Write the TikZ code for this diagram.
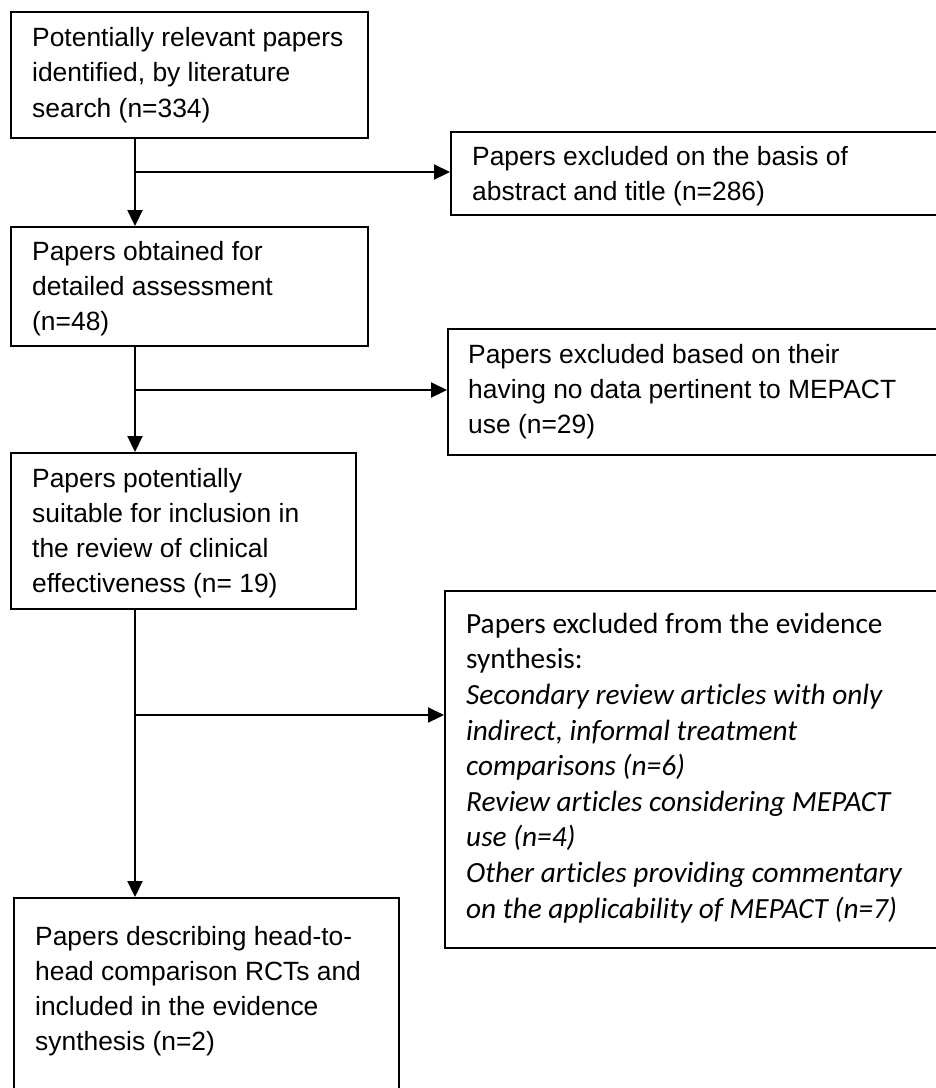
\documentclass[tikz,border=0pt]{standalone}
\usepackage{fontspec}
\setmainfont{Liberation Sans}
\newfontfamily\calfont[Ligatures=NoCommon]{Carlito}
\usetikzlibrary{arrows.meta}
\begin{document}
\begin{tikzpicture}[x=1pt,y=-1pt,
  box/.style={draw=black, line width=1.6pt, inner sep=0pt, anchor=north west},
  txt/.style={anchor=north west, inner sep=0pt, align=left, font=\fontsize{26.4}{35.2}\selectfont},
  caltxt/.style={anchor=north west, inner sep=0pt, align=left, font=\calfont\fontsize{29.3}{35.6}\selectfont},
  conn/.style={line width=2.2pt, draw=black},
  arr/.style={conn, -{Triangle[length=16pt,width=15pt]}}]
\useasboundingbox (0,0) rectangle (936,1088);
\clip (0,0) rectangle (936,1088);
% boxes
\node[box, minimum width=357pt, minimum height=126pt] (b1) at (10,11) {};
\node[box, minimum width=510pt, minimum height=83pt] (b2) at (450,131) {};
\node[box, minimum width=357pt, minimum height=119pt] (b3) at (10,226) {};
\node[box, minimum width=513pt, minimum height=126pt] (b4) at (447,328) {};
\node[box, minimum width=345pt, minimum height=156pt] (b5) at (10,452) {};
\node[box, minimum width=516pt, minimum height=357pt] (b6) at (444,590) {};
\node[box, minimum width=385pt, minimum height=213pt] (b7) at (13,897) {};
% texts
\node[txt] (t1) at (32,21.9) {\strut Potentially relevant papers\\identified, by literature\\search (n=334)};
\node[txt] (t2) at (472,140.4) {\strut Papers excluded on the basis of\\abstract and title (n=286)};
\node[txt] (t3) at (32,235.4) {\strut Papers obtained for\\detailed assessment\\(n=48)};
\node[txt] (t4) at (468,338.4) {\strut Papers excluded based on their\\having no data pertinent to MEPACT\\use (n=29)};
\node[txt] (t5) at (32,462.4) {\strut Papers potentially\\suitable for inclusion in\\the review of clinical\\effectiveness (n= 19)};
\node[caltxt] (t6) at (466,608.1) {\strut Papers excluded from the evidence\\synthesis:\\\textit{Secondary review articles with only}\\\textit{indirect, informal treatment}\\\textit{comparisons (n=6)}\\\textit{Review articles considering MEPACT}\\\textit{use (n=4)}\\\textit{Other articles providing commentary}\\\textit{on the applicability of MEPACT (n=7)}};
\node[txt] (t7) at (35,920.4) {\strut Papers describing head-to-\\head comparison RCTs and\\included in the evidence\\synthesis (n=2)};
% connectors
\coordinate (j1) at (135,172);
\coordinate (j2) at (135,390);
\coordinate (j3) at (135,715);
\draw[arr] (b1.south west -| j1) -- (b3.north west -| j1);
\draw[arr] (j1) -- (j1 -| b2.west);
\draw[arr] (b3.south west -| j2) -- (b5.north west -| j2);
\draw[arr] (j2) -- (j2 -| b4.west);
\draw[arr] (b5.south west -| j3) -- (b7.north west -| j3);
\draw[arr] (j3) -- (j3 -| b6.west);
\end{tikzpicture}
\end{document}
